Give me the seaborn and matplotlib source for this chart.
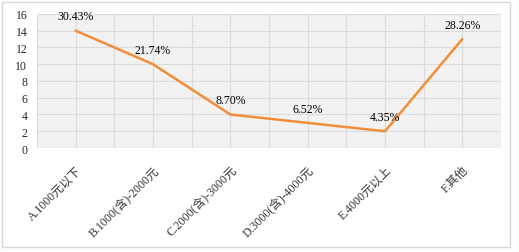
import matplotlib
matplotlib.use('Agg')
import matplotlib.pyplot as plt
import matplotlib.patches as patches
from matplotlib.ticker import MultipleLocator
import seaborn as sns
import pandas as pd

categories = ['A.1000元以下', 'B.1000(含)-2000元', 'C.2000(含)-3000元',
              'D.3000(含)-4000元', 'E.4000元以上', 'F.其他']
counts = [14, 10, 4, 3, 2, 13]
pct_labels = ['30.43%', '21.74%', '8.70%', '6.52%', '4.35%', '28.26%']

sns.set_style('white')
plt.rcParams['font.family'] = ['Liberation Serif', 'Noto Sans CJK SC']

df = pd.DataFrame({'cat': categories, 'n': counts})

fig = plt.figure(figsize=(5.19, 2.53), dpi=100)
ax = fig.add_axes([0.0713, 0.411, 0.894, 0.53])
ax.set_facecolor('#f2f2f2')

sns.lineplot(data=df, x='cat', y='n', ax=ax, color='#f28e3a', linewidth=1.8, sort=False)

# percentage labels above each point
for i, (v, lab) in enumerate(zip(counts, pct_labels)):
    ax.annotate(lab, (i, v), xytext=(0, 6), textcoords='offset points',
                ha='center', va='bottom', fontsize=8.5, color='black')

ax.set_xlim(-0.5, len(categories) - 0.5)
ax.set_ylim(0, 16)
ax.yaxis.set_major_locator(MultipleLocator(2))
ax.xaxis.set_minor_locator(MultipleLocator(0.5))
ax.grid(True, which='both', axis='x', color='#dcdcdc', linewidth=0.8)
ax.grid(True, which='major', axis='y', color='#dcdcdc', linewidth=0.8)
ax.set_axisbelow(True)
for s in ax.spines.values():
    s.set_visible(False)
ax.tick_params(axis='both', which='both', length=0, labelsize=8.5)
ax.tick_params(axis='x', pad=11)
ax.tick_params(axis='y', pad=7)
plt.setp(ax.get_xticklabels(), rotation=45, ha='right', rotation_mode='anchor', color='#333333')
ax.set_xlabel('')
ax.set_ylabel('')

fig.patches.append(patches.Rectangle((0.004, 0.02), 0.979, 0.97, transform=fig.transFigure,
                                     fill=False, edgecolor='#d9d9d9', linewidth=1))

fig.savefig('out.png', dpi=100)
